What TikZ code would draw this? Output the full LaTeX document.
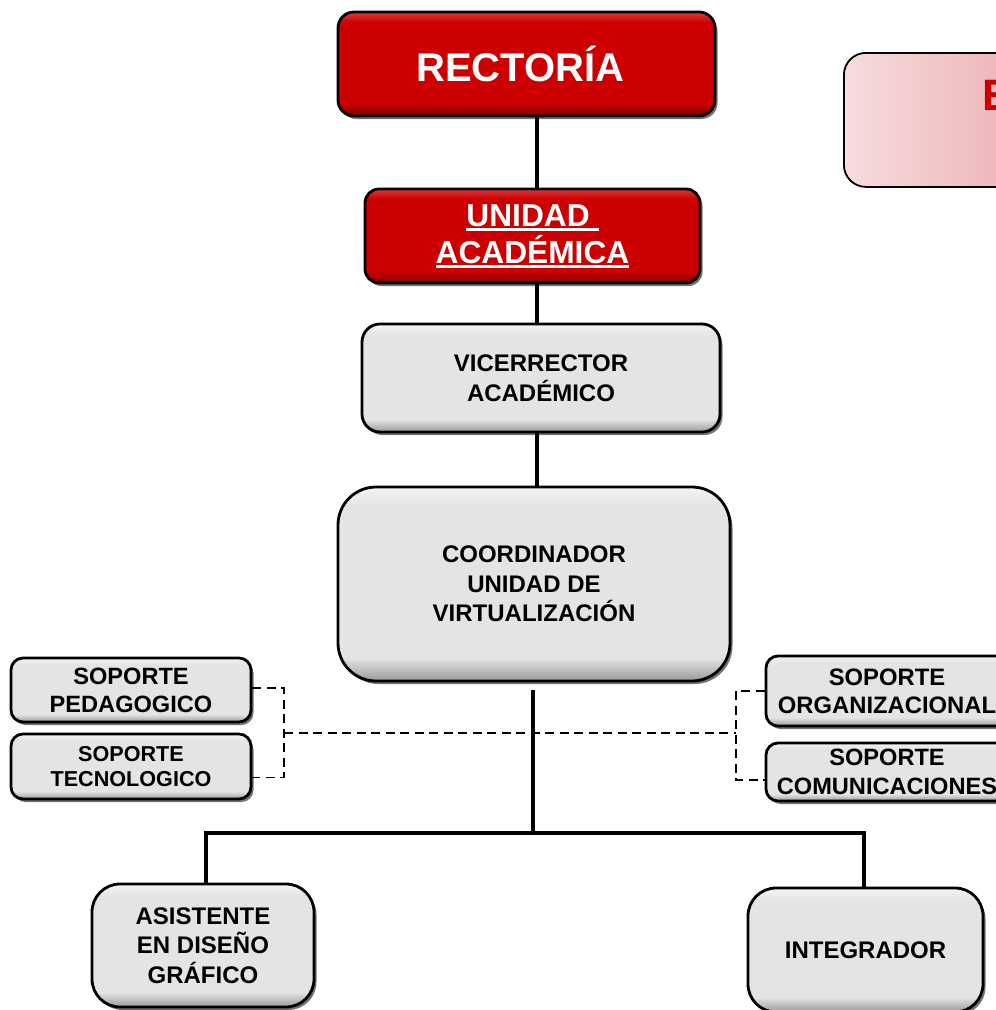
\documentclass[tikz,border=0pt]{standalone}
\usepackage{fontspec}
\setmainfont{Liberation Sans}
\usetikzlibrary{shadows}
\definecolor{rmain}{HTML}{CC0000}
\definecolor{rdark}{HTML}{7A0000}
\definecolor{rlight}{HTML}{E23A3A}
\definecolor{gdark}{HTML}{9A9A9A}
\definecolor{gmid}{HTML}{E4E4E4}
\definecolor{glight}{HTML}{F4F4F4}
\definecolor{pinkl}{HTML}{F7DCDE}
\definecolor{pinkr}{HTML}{E7969A}
\pgfdeclareverticalshading{bevelgray}{100bp}{color(0bp)=(gdark); color(25bp)=(gdark); color(31bp)=(gmid); color(70bp)=(gmid); color(75bp)=(glight); color(100bp)=(glight)}
\pgfdeclareverticalshading{bevelred}{100bp}{color(0bp)=(rdark); color(25bp)=(rdark); color(31bp)=(rmain); color(70bp)=(rmain); color(75bp)=(rlight); color(100bp)=(rlight)}
\newcommand\myul[1]{\setbox0\hbox{#1}\rlap{\rule[-4.5pt]{\wd0}{2.6pt}}\box0}
\tikzset{
  boxbase/.style={draw=black, line width=2.8pt, align=center, inner sep=0pt,
    drop shadow={shadow xshift=2.5pt, shadow yshift=-3pt, opacity=.55, fill=black}},
  redbox/.style={boxbase, rounded corners=#1, shading=bevelred, text=white},
  redbox/.default=16pt,
  graybox/.style={boxbase, rounded corners=#1, shading=bevelgray, text=black},
  graybox/.default=14pt,
  conn/.style={line width=3.2pt},
  dconn/.style={line width=1.9pt, dash pattern=on 9pt off 5.5pt},
  fbig/.style={font=\bfseries\fontsize{24}{29.5}\selectfont}
}
\begin{document}
\begin{tikzpicture}[x=1pt,y=-1pt]
\useasboundingbox (0,0) rectangle (996,1010);
\fill[white] (0,0) rectangle (996,1010);
\clip (0,0) rectangle (996,1010);

% pink title box (cut off at right edge)
\node[draw=black, line width=1.8pt, rounded corners=22pt, left color=pinkl, right color=pinkr,
  minimum width=300pt, minimum height=134pt, anchor=north west, inner sep=0pt] (pink) at (843,52) {};
\node[anchor=base west, inner sep=0pt, text=rmain, font=\bfseries\fontsize{44}{48}\selectfont] (ptext) at (982,110) {E};

% main boxes
\node[redbox=16pt, minimum width=377pt, minimum height=104pt, font=\bfseries\fontsize{40}{44}\selectfont] (rect) at (526.5,64) {RECTORÍA\hspace*{12pt}};
\node[redbox=14pt, minimum width=335pt, minimum height=94pt, font=\bfseries\fontsize{31.7}{37}\selectfont] (unidad) at (532.5,236) {\myul{UNIDAD\ }\\\myul{ACADÉMICA}};
\node[graybox=18pt, minimum width=358pt, minimum height=108pt, fbig] (vice) at (541,378) {VICERRECTOR\\ACADÉMICO};
\node[graybox=38pt, minimum width=392pt, minimum height=194pt, fbig] (coord) at (534,584) {COORDINADOR\\UNIDAD DE\\VIRTUALIZACIÓN};

\node[graybox=12pt, minimum width=240pt, minimum height=64pt, font=\bfseries\fontsize{23.6}{28}\selectfont] (ped) at (131,690) {SOPORTE\\PEDAGOGICO};
\node[graybox=12pt, minimum width=240pt, minimum height=65pt, font=\bfseries\fontsize{21.6}{25}\selectfont] (tec) at (131,766.5) {SOPORTE\\TECNOLOGICO};
\node[graybox=12pt, minimum width=242pt, minimum height=70pt, font=\bfseries\fontsize{23.8}{28}\selectfont] (org) at (887,691) {SOPORTE\\ORGANIZACIONAL};
\node[graybox=12pt, minimum width=242pt, minimum height=58pt, font=\bfseries\fontsize{23.6}{29}\selectfont] (com) at (887,772) {SOPORTE\\COMUNICACIONES};

\node[graybox=28pt, minimum width=222pt, minimum height=123pt, fbig] (asis) at (203,945.5) {ASISTENTE\\EN DISEÑO\\ GRÁFICO};
\node[graybox=28pt, minimum width=235pt, minimum height=124pt, fbig] (integ) at (865.5,950) {INTEGRADOR};

% coordinates
\coordinate (cx) at (537,0);
\coordinate (tstart) at (533,690);
\coordinate (tjoin) at (533,833);
\coordinate (hl) at (204,833);
\coordinate (hr) at (866,833);
\coordinate (lx) at (206,833);
\coordinate (rx) at (864,833);
\coordinate (dl) at (284,733);
\coordinate (dr) at (736,733);
\coordinate (pe) at ([yshift=2pt]ped.east);
\coordinate (te) at ([yshift=-11pt]tec.east);
\coordinate (ow) at (org.west);
\coordinate (cw) at ([yshift=-8pt]com.west);

% solid connectors
\draw[conn] (cx |- rect.south) -- (cx |- unidad.north);
\draw[conn] (cx |- unidad.south) -- (cx |- vice.north);
\draw[conn] (cx |- vice.south) -- (cx |- coord.north);
\draw[conn] (tstart) -- (tjoin);
\draw[conn] (hl) -- (hr);
\draw[conn] (lx) -- (lx |- asis.north);
\draw[conn] (rx) -- (rx |- integ.north);

% dashed connectors
\draw[dconn] (pe) -- (dl |- pe) -- (dl |- te) -- (te);
\draw[dconn] (dl) -- (dr);
\draw[dconn] (ow) -- (dr |- ow) -- (dr |- cw) -- (cw);
\end{tikzpicture}
\end{document}
